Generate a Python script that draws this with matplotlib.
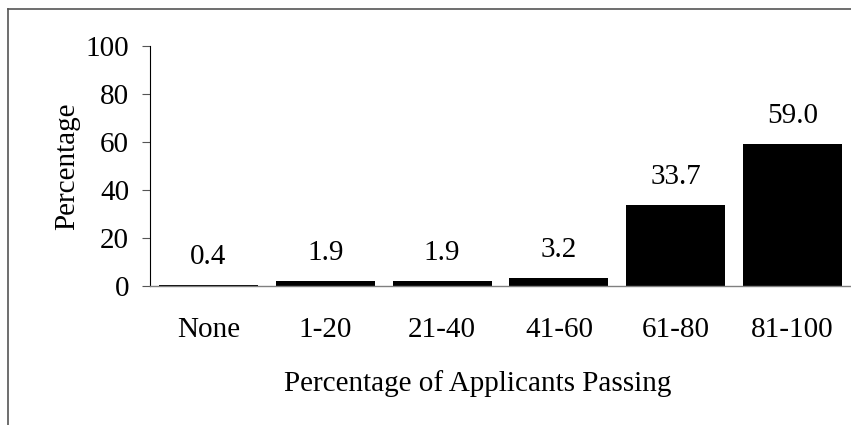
import matplotlib
matplotlib.use('Agg')
import matplotlib.pyplot as plt
from matplotlib.lines import Line2D

# data
categories = ['None', '1-20', '21-40', '41-60', '61-80', '81-100']
values = [0.4, 1.9, 1.9, 3.2, 33.7, 59.0]
yticks = [0, 20, 40, 60, 80, 100]

plt.rcParams['font.family'] = ['Liberation Serif', 'DejaVu Serif']
plt.rcParams['font.size'] = 21

fig = plt.figure(figsize=(8.51, 4.25), dpi=100)
ax = fig.add_axes([150/851, 139/425, 701/851, 240/425])

x = range(len(categories))
bars = ax.bar(x, values, width=0.846, color='black')
for xi, v in zip(x, values):
    ax.annotate('%.1f' % v, (xi, v), xytext=(0, 11), textcoords='offset points',
                ha='center', va='bottom', fontsize=21)

ax.set_xlim(-0.5, 5.5)
ax.set_ylim(0, 100)
ax.set_yticks(yticks)
ax.set_xticks(list(x))
ax.set_xticklabels(categories)
ax.tick_params(axis='x', length=0, pad=22)
ax.tick_params(axis='y', length=6, width=0.8, color='#555555', pad=9)
ax.spines['top'].set_visible(False)
ax.spines['right'].set_visible(False)
ax.spines['left'].set_color('black')
ax.spines['left'].set_linewidth(0.8)
ax.spines['bottom'].set_color('#808080')
ax.spines['bottom'].set_linewidth(1.0)
ax.set_xlabel('Percentage of Applicants Passing')
ax.xaxis.set_label_coords((478 - 150) / 701, -(384 - 286) / 240)
ax.xaxis.label.set_va('center')
ax.set_ylabel('Percentage')
ax.yaxis.set_label_coords(-(150 - 67) / 701, 0.5)
ax.yaxis.label.set_va('center')

# cropped outer frame
fig.add_artist(Line2D([8/851, 8/851], [0, 1 - 9/425], transform=fig.transFigure,
                      color='#555555', lw=1.2))
fig.add_artist(Line2D([8/851, 1], [1 - 9/425, 1 - 9/425], transform=fig.transFigure,
                      color='#555555', lw=1.2))

fig.savefig('out.png', dpi=100)
